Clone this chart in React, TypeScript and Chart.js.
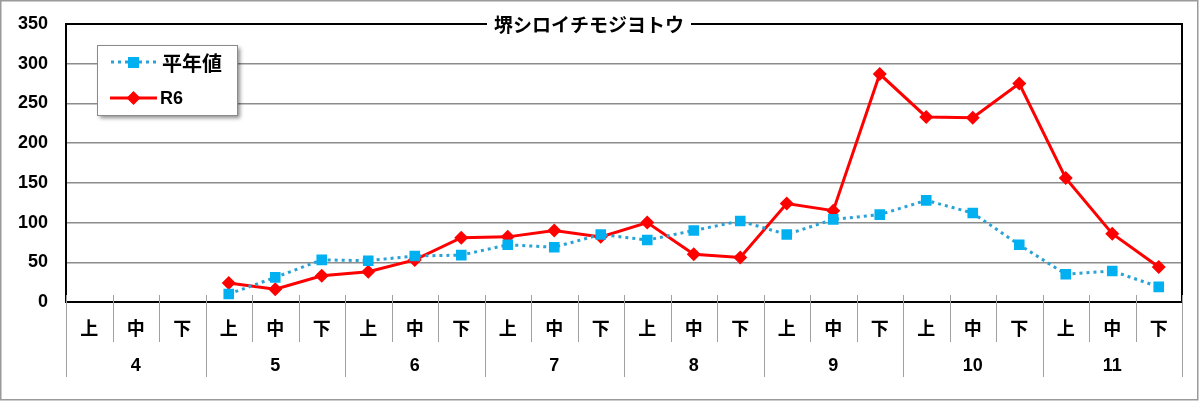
import React, { useEffect, useRef } from 'react';
import { Chart, registerables } from 'chart.js';

Chart.register(...registerables);

const months = ['4', '5', '6', '7', '8', '9', '10', '11'];
const periods = ['上', '中', '下'];
const categories = months.flatMap((m) => periods.map((p) => `${m}月${p}`));
const normalValues: (number | null)[] = [null, null, null, 10, 31, 53, 52, 58, 59, 72, 69, 85, 78, 90, 102, 85, 104, 110, 128, 112, 72, 35, 39, 19];
const r6Values: (number | null)[] = [null, null, null, 24, 16, 33, 38, 53, 81, 82, 90, 82, 100, 60, 56, 124, 115, 287, 233, 232, 275, 156, 86, 44];
const titleText = '堺シロイチモジヨトウ';
const normalLabel = '平年値';
const r6Label = 'R6';
const yMin = 0;
const yMax = 350;
const yStep = 50;

const BLUE_LINE = '#2aa2d6';
const BLUE_MARK = '#00b0f0';
const RED = '#ff0000';
const CJK = '"Noto Sans CJK JP", "Liberation Sans", sans-serif';
const LAT = '"Liberation Sans", Arial, sans-serif';

const customPlugin = {
  id: 'customDecor',
  beforeDatasetsDraw(chart: any) {
    const { ctx, chartArea: a } = chart;
    ctx.save();
    ctx.strokeStyle = '#000';
    ctx.lineWidth = 2;
    ctx.strokeRect(a.left, a.top, a.right - a.left, a.bottom - a.top);
    ctx.restore();
  },
  afterDraw(chart: any) {
    const { ctx, chartArea: a } = chart;
    const xs = chart.scales.x;
    const n = categories.length;
    const w = (a.right - a.left) / n;
    ctx.save();
    // x-axis separators
    ctx.strokeStyle = '#a0a0a0';
    ctx.lineWidth = 1;
    for (let i = 0; i <= n; i++) {
      const px = Math.round(a.left + i * w) + 0.5;
      ctx.beginPath();
      ctx.moveTo(px, a.bottom - 7);
      ctx.lineTo(px, i % 3 === 0 ? 377 : 342);
      ctx.stroke();
    }
    // period labels
    ctx.fillStyle = '#000';
    ctx.textAlign = 'center';
    ctx.textBaseline = 'middle';
    ctx.font = `bold 18px ${CJK}`;
    for (let i = 0; i < n; i++) {
      ctx.fillText(periods[i % 3], xs.getPixelForValue(i), 328);
    }
    ctx.font = `bold 18px ${LAT}`;
    months.forEach((m, mi) => {
      const cx = (xs.getPixelForValue(mi * 3) + xs.getPixelForValue(mi * 3 + 2)) / 2;
      ctx.fillText(m, cx, 366);
    });

    // legend
    const lx = 97, ly = 45, lw = 140, lh = 70;
    ctx.save();
    ctx.shadowColor = 'rgba(0,0,0,0.45)';
    ctx.shadowBlur = 4;
    ctx.shadowOffsetX = 3;
    ctx.shadowOffsetY = 3;
    ctx.fillStyle = '#fff';
    ctx.fillRect(lx, ly, lw, lh);
    ctx.restore();
    ctx.strokeStyle = '#8a8a8a';
    ctx.lineWidth = 1;
    ctx.strokeRect(lx + 0.5, ly + 0.5, lw, lh);
    // blue sample
    ctx.strokeStyle = BLUE_LINE;
    ctx.lineWidth = 3;
    ctx.setLineDash([3, 4]);
    ctx.beginPath();
    ctx.moveTo(111, 62);
    ctx.lineTo(157, 62);
    ctx.stroke();
    ctx.setLineDash([]);
    ctx.fillStyle = BLUE_MARK;
    ctx.fillRect(128, 57, 11, 11);
    // red sample
    ctx.strokeStyle = RED;
    ctx.lineWidth = 3;
    ctx.beginPath();
    ctx.moveTo(110, 98);
    ctx.lineTo(157, 98);
    ctx.stroke();
    ctx.fillStyle = RED;
    ctx.beginPath();
    ctx.moveTo(133.5, 91);
    ctx.lineTo(140.5, 98);
    ctx.lineTo(133.5, 105);
    ctx.lineTo(126.5, 98);
    ctx.closePath();
    ctx.fill();
    ctx.fillStyle = '#000';
    ctx.textAlign = 'left';
    ctx.font = `bold 20px ${CJK}`;
    ctx.fillText(normalLabel, 162, 63);
    ctx.font = `bold 18px ${LAT}`;
    ctx.fillText(r6Label, 160, 99);

    // title
    ctx.font = `bold 19px ${CJK}`;
    const tw = ctx.measureText(titleText).width;
    const tcx = 589;
    ctx.fillStyle = '#fff';
    ctx.fillRect(tcx - tw / 2 - 7, a.top - 4, tw + 14, 8);
    ctx.fillStyle = '#000';
    ctx.textAlign = 'center';
    ctx.fillText(titleText, tcx, a.top + 1);

    // outer frame
    ctx.strokeStyle = '#9a9a9a';
    ctx.lineWidth = 1.5;
    ctx.strokeRect(0.75, 0.75, 1197, 399);
    ctx.restore();
  },
};

export default function App() {
  const ref = useRef<HTMLCanvasElement | null>(null);
  useEffect(() => {
    if (!ref.current) return;
    const chart = new Chart(ref.current, {
      type: 'line',
      data: {
        labels: categories,
        datasets: [
          {
            label: normalLabel,
            data: normalValues,
            borderColor: BLUE_LINE,
            borderWidth: 3,
            borderDash: [3, 4],
            pointStyle: 'rect',
            pointRadius: 7.5,
            pointBackgroundColor: BLUE_MARK,
            pointBorderColor: BLUE_MARK,
            pointBorderWidth: 0,
            tension: 0,
          },
          {
            label: r6Label,
            data: r6Values,
            borderColor: RED,
            borderWidth: 3,
            pointStyle: 'rectRot',
            pointRadius: 7,
            pointBackgroundColor: RED,
            pointBorderColor: RED,
            pointBorderWidth: 0,
            tension: 0,
          },
        ],
      },
      options: {
        animation: false,
        responsive: false,
        devicePixelRatio: 1,
        layout: { padding: { left: 0, top: 24, right: 18, bottom: 99 } },
        plugins: { legend: { display: false }, tooltip: { enabled: false }, title: { display: false } },
        scales: {
          x: { display: false, offset: true },
          y: {
            min: yMin,
            max: yMax,
            ticks: {
              stepSize: yStep,
              color: '#000',
              font: { family: LAT, size: 18, weight: 'bold' },
              padding: 0,
            },
            grid: { color: '#8c8c8c', lineWidth: 1.5, drawTicks: true, tickLength: 18, tickColor: 'rgba(0,0,0,0)' },
            border: { display: false },
            afterFit: (scale: any) => {
              scale.width = 66;
            },
          },
        },
      },
      plugins: [customPlugin],
    } as any);
    return () => chart.destroy();
  }, []);
  return (
    <div style={{ position: 'fixed', left: 0, top: 0, width: 1200, height: 401, background: '#fff' }}>
      <canvas ref={ref} width={1200} height={401} style={{ width: 1200, height: 401, display: 'block' }} />
    </div>
  );
}
